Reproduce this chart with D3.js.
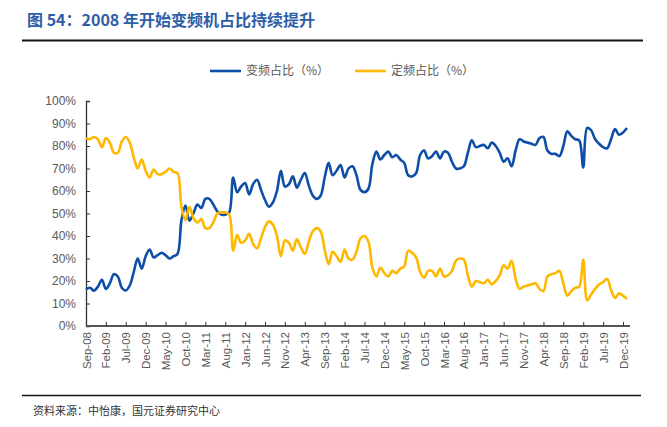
<!DOCTYPE html>
<html>
<head>
  <meta charset="utf-8">
  <script src="https://d3js.org/d3.v7.min.js"></script>
  <style type="text/css">
    body { margin: 0; background: #fff; }
    text { font-family: "Liberation Sans", Arial, sans-serif; }
    .cjk { font-family: "Noto Sans CJK SC", sans-serif; }
  </style>
</head>
<body>
  <script type="text/javascript">
    // monthly series, Sep-08 .. Jan-20 (index 0 = Sep-08)
    var inverterShare = [
      16.3, 17, 15.7, 17.5, 20.5, 16.5, 19, 23, 22, 17,
      15.8, 18, 24, 30, 25.5, 31, 34, 30.5, 31.5, 32.5,
      31.5, 30, 31, 32, 47, 53.5, 46.8, 50, 54, 52.5,
      56.5, 56.5, 54, 51, 49.5, 49.5, 50.5, 66, 59.5, 62,
      63.5, 58.5, 63, 65, 60.5, 56, 53, 55, 60, 69,
      62, 63, 66.5, 61.5, 65, 68, 62.5, 58, 56.5, 58,
      66, 72.5, 67, 69, 71.5, 66, 70, 71, 67, 60.5,
      59.5, 61, 72, 77.5, 74, 76, 77.5, 75, 76, 74,
      72.5, 67, 66.5, 68, 76, 78, 74.5, 75.5, 77.5, 74.5,
      77.5, 77, 73, 70, 70, 71, 77, 82.5, 79.5, 80,
      80.5, 79, 81.5, 80, 77, 73, 74.5, 71, 78, 83,
      82, 81.5, 81, 80.5, 83.5, 84, 78, 76.5, 76.5, 75.5,
      80, 86.5, 84.5, 83, 82.5, 70.5, 88, 87, 83, 81,
      79.5, 79, 83, 87.5, 85, 86, 88
    ];
    var fixedShare = [
      83.5, 83, 84, 83, 79.5, 83.5, 81.5, 77, 77, 82,
      84, 81.5, 75, 70, 74, 69, 66, 69.5, 67.5, 67.5,
      68.5, 70, 68.5, 68, 53, 47, 53, 48, 46, 47.5,
      43.5, 43.5, 46, 50, 50.5, 50.5, 49.5, 33.5, 40.5, 37,
      38, 41, 36.5, 34.5, 39, 44, 46.5, 45, 40, 31,
      38, 37, 33.5, 38.5, 35, 32, 37.5, 42, 43.5, 42,
      34, 27.5, 33, 31, 28.5, 34, 30, 29.5, 33, 39,
      40, 37.5, 26, 22, 26, 23.5, 22, 24.5, 23.5, 25.5,
      26.5, 33.5, 32.5, 30.5, 24, 21.5, 24.5, 24.5, 22, 25.5,
      22, 22.5, 24.5, 29, 30, 29.5, 22.5, 17.5, 20, 19.5,
      19, 20.5, 18.5, 20, 22.5, 27, 25.5, 29, 21, 16.5,
      17.5, 18, 18.5, 19, 16.5, 15.5, 22, 23, 23.5, 24.5,
      19, 13.5, 15.5, 17, 17.5, 29.5, 11.5, 14, 16.5, 18.5,
      19.5, 21, 16, 12.5, 14.5, 13.5, 12
    ];
    // axis labels every 5 months starting Sep-08
    var tickLabels = [
      "Sep-08", "Feb-09", "Jul-09", "Dec-09", "May-10", "Oct-10", "Mar-11",
      "Aug-11", "Jan-12", "Jun-12", "Nov-12", "Apr-13", "Sep-13", "Feb-14",
      "Jul-14", "Dec-14", "May-15", "Oct-15", "Mar-16", "Aug-16", "Jan-17",
      "Jun-17", "Nov-17", "Apr-18", "Sep-18", "Feb-19", "Jul-19", "Dec-19"
    ];
    var tickStep = 5;
    var yTicks = [0, 10, 20, 30, 40, 50, 60, 70, 80, 90, 100];
    var seriesNames = ["变频占比（%）", "定频占比（%）"];
    var seriesColors = ["#0d4ea6", "#ffb800"];

    var width = 667, height = 427;
    var svg = d3.select("body").append("svg")
      .attr("width", width)
      .attr("height", height);

    // title + rules
    svg.append("text")
      .attr("class", "cjk")
      .attr("x", 27).attr("y", 26)
      .style("font-size", "16px")
      .style("font-weight", "bold")
      .style("fill", "#2f5ea8")
      .text("图 54：2008 年开始变频机占比持续提升");
    svg.append("line")
      .attr("x1", 22).attr("x2", 643).attr("y1", 40.5).attr("y2", 40.5)
      .style("stroke", "#111").style("stroke-width", 1.8);
    svg.append("line")
      .attr("x1", 22).attr("x2", 641).attr("y1", 395.5).attr("y2", 395.5)
      .style("stroke", "#111").style("stroke-width", 1.5);
    svg.append("text")
      .attr("class", "cjk")
      .attr("x", 33).attr("y", 415)
      .style("font-size", "11px")
      .style("fill", "#333")
      .text("资料来源：中怡康，国元证券研究中心");

    // scales
    var x = d3.scaleLinear().domain([0, (tickLabels.length - 1) * tickStep]).range([86, 623]);
    var y = d3.scaleLinear().domain([0, 100]).range([326, 101]);

    // y axis
    var yAxis = d3.axisLeft(y)
      .tickValues(yTicks)
      .tickSize(-4)
      .tickPadding(10)
      .tickFormat(function (d) { return d + "%"; });
    var gy = svg.append("g").attr("transform", "translate(86,0)").call(yAxis);
    gy.select(".domain").style("stroke", "#333").style("stroke-width", 1.3);
    gy.selectAll(".tick line").style("stroke", "#333");
    gy.selectAll("text").style("font-size", "12px").style("fill", "#595959")
      .style("font-family", "'Liberation Sans', Arial, sans-serif");

    // x axis
    var xAxis = d3.axisBottom(x)
      .tickValues(tickLabels.map(function (d, i) { return i * tickStep; }))
      .tickSizeInner(-4)
      .tickSizeOuter(0)
      .tickFormat(function (d) { return tickLabels[d / tickStep]; });
    var gx = svg.append("g").attr("transform", "translate(0,326)").call(xAxis);
    gx.select(".domain").attr("d", "M86,0H630").style("stroke", "#555").style("stroke-width", 1.8);
    gx.selectAll(".tick line").style("stroke", "#333");
    gx.selectAll("text")
      .style("font-size", "11.5px").style("fill", "#595959")
      .style("font-family", "'Liberation Sans', Arial, sans-serif")
      .attr("text-anchor", "end")
      .attr("dy", "0.35em")
      .attr("transform", "translate(0,0) rotate(-90)")
      .attr("x", -6).attr("y", 0);

    // lines
    var line = d3.line()
      .x(function (d, i) { return x(i); })
      .y(function (d) { return y(d); })
      .curve(d3.curveCatmullRom.alpha(0.5));

    [inverterShare, fixedShare].forEach(function (s, k) {
      svg.append("path")
        .datum(s)
        .attr("d", line)
        .style("fill", "none")
        .style("stroke", seriesColors[k])
        .style("stroke-width", 2.6)
        .style("stroke-linejoin", "round");
    });

    // legend
    var legendX = [210, 355];
    seriesNames.forEach(function (name, k) {
      var g = svg.append("g").attr("transform", "translate(" + legendX[k] + ",71)");
      g.append("line").attr("x1", 0).attr("x2", 31).attr("y1", 0).attr("y2", 0)
        .style("stroke", seriesColors[k]).style("stroke-width", 2.6);
      g.append("text").attr("class", "cjk")
        .attr("x", 36).attr("y", 4)
        .style("font-size", "12px").style("fill", "#595959")
        .text(name);
    });
  </script>
</body>
</html>
